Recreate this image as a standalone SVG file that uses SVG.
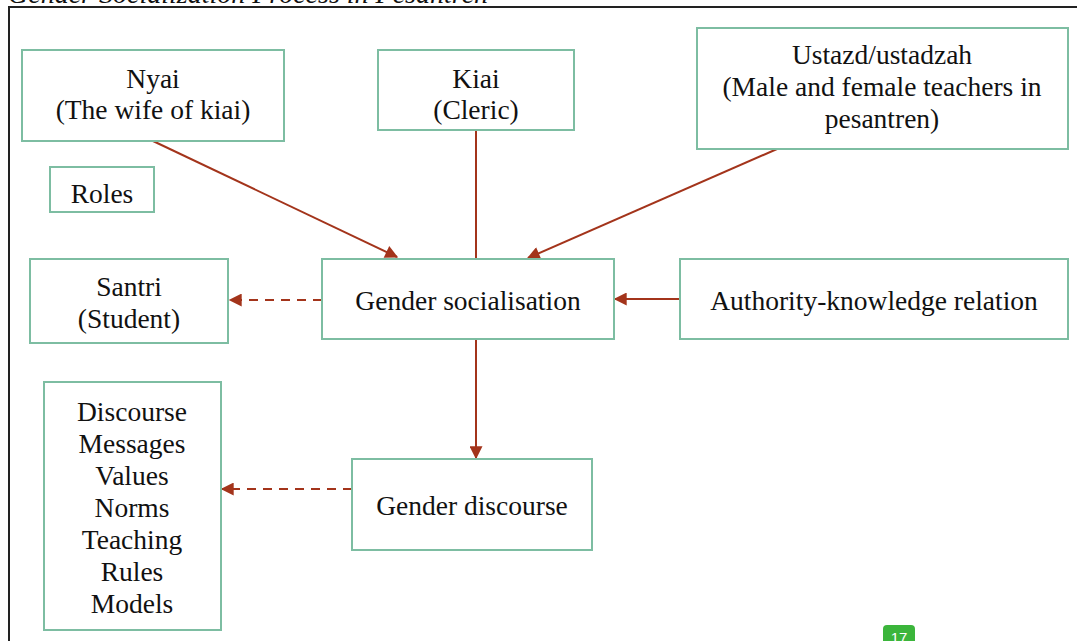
<svg xmlns="http://www.w3.org/2000/svg" width="1077" height="641" viewBox="0 0 1077 641">
<defs>
<style>
.box{fill:#fff;stroke:#7dbda2;stroke-width:2}
.t{font-family:"Liberation Serif","Times New Roman",serif;font-size:27.5px;fill:#111;text-anchor:middle}
.c{stroke:#a3341b;stroke-width:2;fill:none}
.d{stroke-dasharray:9,7}
</style>
<marker id="ah2" viewBox="0 0 10 10" refX="9" refY="5" markerWidth="14" markerHeight="13" markerUnits="userSpaceOnUse" orient="auto">
<path d="M0,0 L10,5 L0,10 z" fill="#a3341b"/>
</marker>
</defs>
<rect width="1077" height="641" fill="#fff"/>
<text x="8" y="3" font-family="Liberation Serif, serif" font-style="italic" font-size="28" fill="#111">Gender Socialization Process in Pesantren</text>
<path d="M9,641 L9,7 L1077,7" stroke="#222" stroke-width="2" fill="none"/>
<g id="connectors">
<line class="c" x1="153" y1="141" x2="397" y2="257" marker-end="url(#ah2)"/>
<line class="c" x1="476" y1="130" x2="476" y2="259"/>
<line class="c" x1="777" y1="149" x2="528" y2="258" marker-end="url(#ah2)"/>
<line class="c" x1="680" y1="299" x2="615" y2="299" marker-end="url(#ah2)"/>
<line class="c" x1="476" y1="339" x2="476" y2="458" marker-end="url(#ah2)"/>
<line class="c d" x1="322" y1="300" x2="230" y2="300" marker-end="url(#ah2)"/>
<line class="c d" x1="352" y1="489" x2="222" y2="489" marker-end="url(#ah2)"/>
</g>
<g id="nyai"><rect class="box" x="22" y="50" width="262" height="91"/>
<text class="t" x="153" y="88">Nyai</text><text class="t" x="153" y="119">(The wife of kiai)</text></g>
<g id="kiai"><rect class="box" x="378" y="50" width="196" height="80"/>
<text class="t" x="476" y="88">Kiai</text><text class="t" x="476" y="119">(Cleric)</text></g>
<g id="ustazd"><rect class="box" x="697" y="28" width="371" height="121"/>
<text class="t" x="882" y="64">Ustazd/ustadzah</text><text class="t" x="882" y="96">(Male and female teachers in</text><text class="t" x="882" y="128">pesantren)</text></g>
<g id="roles"><rect class="box" x="50" y="167" width="104" height="45"/>
<text class="t" x="102" y="203">Roles</text></g>
<g id="santri"><rect class="box" x="30" y="259" width="198" height="84"/>
<text class="t" x="129" y="296">Santri</text><text class="t" x="129" y="328">(Student)</text></g>
<g id="socialisation"><rect class="box" x="322" y="259" width="292" height="80"/>
<text class="t" x="468" y="310">Gender socialisation</text></g>
<g id="authority"><rect class="box" x="680" y="259" width="388" height="80"/>
<text class="t" x="874" y="310">Authority-knowledge relation</text></g>
<g id="list"><rect class="box" x="44" y="382" width="177" height="248"/>
<text class="t" x="132" y="421">Discourse</text><text class="t" x="132" y="453">Messages</text><text class="t" x="132" y="485">Values</text><text class="t" x="132" y="517">Norms</text><text class="t" x="132" y="549">Teaching</text><text class="t" x="132" y="581">Rules</text><text class="t" x="132" y="613">Models</text></g>
<g id="discourse"><rect class="box" x="352" y="459" width="240" height="91"/>
<text class="t" x="472" y="515">Gender discourse</text></g>
<g id="badge"><rect x="883" y="625" width="32" height="24" rx="4" fill="#3bb53b"/>
<text x="899" y="643" font-family="Liberation Sans, sans-serif" font-size="15" fill="#fff" text-anchor="middle">17</text></g>
</svg>
